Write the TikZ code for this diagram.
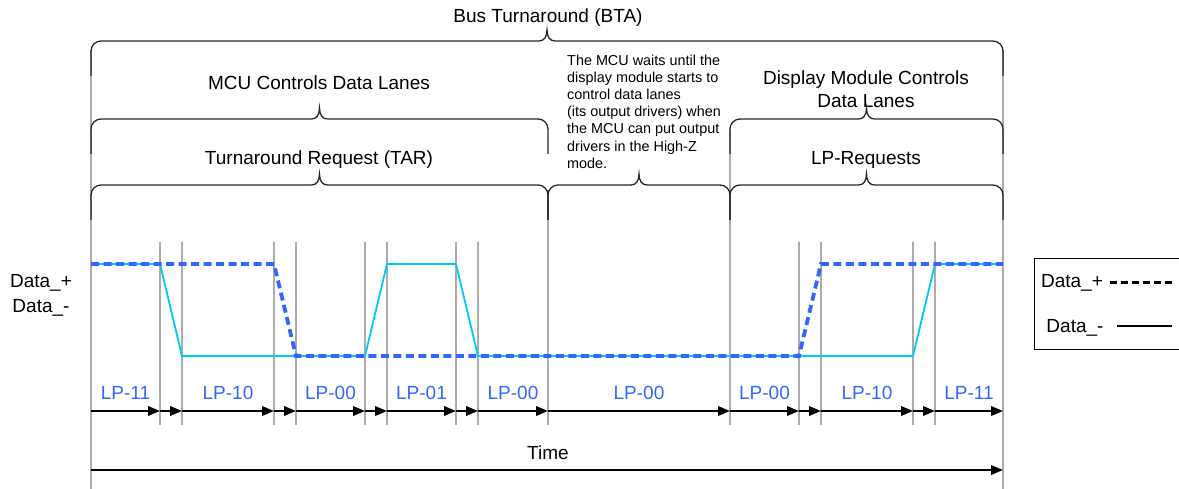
\documentclass[tikz,border=0pt]{standalone}
\usepackage{fontspec}
\setmainfont{Liberation Sans}
\usepackage{tikz}
\usetikzlibrary{arrows.meta,positioning}
\definecolor{lpblue}{HTML}{3366FF}
\definecolor{lcyan}{HTML}{00C8F8}
\definecolor{gridgray}{HTML}{ABABAB}
\tikzset{
  td/txt/.style={font=\fontsize{19}{23}\selectfont, inner sep=0pt, align=center},
  td/note/.style={font=\fontsize{14.4}{17.2}\selectfont, inner sep=0pt, align=left},
  td/gridline/.style={draw=gridgray, line width=1.1pt},
  td/bracepath/.style={draw=black!85, line width=1.3pt},
  td/tarrow/.style={draw, line width=2pt, -{Triangle[length=12pt,width=9.5pt]}}
}

\begin{document}
\begin{tikzpicture}[
  x=1pt, y=-1pt,
  txt/.style={td/txt},
  lp/.style={td/txt, text=lpblue},
  dplus/.style={draw=lpblue, line width=3.8pt, dash pattern=on 8pt off 4.5pt},
  dminus/.style={draw=lcyan, line width=1.8pt}
]
\useasboundingbox (0,0) rectangle (1179,489);

% --- grid lines ---
\foreach \x in {91,1003} \draw[td/gridline] (\x,50) -- (\x,489);
\foreach \x in {160,182,274,296,365,387,456,478,799,821,913,935}
  \draw[td/gridline] (\x,242) -- (\x,425);
\draw[td/gridline] (548,190) -- (548,425);
\draw[td/gridline] (730,130) -- (730,425);

% --- braces ---
\foreach \xa/\xb/\yy in {91/1003/41, 91/548/119, 730/1003/119,
                         91/548/185, 548/730/185, 730/1003/185} {
  \pgfmathsetmacro\xm{(\xa+\xb)/2}
  \draw[td/bracepath] (\xa,\yy+35) -- (\xa,\yy+10)
    .. controls (\xa,\yy+4.5) and (\xa+4.5,\yy) .. (\xa+10,\yy)
    -- (\xm-8,\yy)
    .. controls (\xm-3,\yy) and (\xm,\yy-4) .. (\xm,\yy-11)
    .. controls (\xm,\yy-4) and (\xm+3,\yy) .. (\xm+8,\yy)
    -- (\xb-10,\yy)
    .. controls (\xb-4.5,\yy) and (\xb,\yy+4.5) .. (\xb,\yy+10)
    -- (\xb,\yy+35);
}

% --- phase texts ---
\node[txt] (bta) at (548,18) {Bus Turnaround (BTA)};
\node[txt] (mcu) at (319,83) {MCU Controls Data Lanes};
\node[txt] (disp) at (866,89) {Display Module Controls\\Data Lanes};
\node[txt] (tar) at (319,160) {Turnaround Request (TAR)};
\node[txt] (lpreq) at (866,160) {LP-Requests};
\node[td/note, anchor=north west] (wait) at (567,54.5)
  {The MCU waits until the\\display module starts to\\control data lanes\\(its output drivers) when\\the MCU can put output\\drivers in the High-Z\\mode.};

% --- signal names ---
\node[txt] (nplus) at (41,283) {Data\_+};
\node[txt, below=8pt of nplus] (nminus) {Data\_-};

% --- waveforms ---
\draw[dminus] (91,264) -- (160,264) -- (182,356) -- (365,356) -- (387,264)
  -- (456,264) -- (478,356) -- (913,356) -- (935,264) -- (1003,264);
\draw[dplus] (91,264) -- (274,264) -- (296,356) -- (799,356) -- (821,264)
  -- (1003,264);

% --- LP states ---
\foreach \x/\s [count=\i] in {125.5/LP-11, 228/LP-10, 330.5/LP-00, 421.5/LP-01,
    513/LP-00, 639/LP-00, 764.5/LP-00, 867/LP-10, 969/LP-11}
  \node[lp] (lp\i) at (\x,393) {\s};

% --- time steps ---
\foreach \x [count=\i] in {91,160,182,274,296,365,387,456,478,548,730,799,821,913,935,1003}
  \coordinate (t\i) at (\x,411);
\foreach \i [evaluate=\i as \j using int(\i+1)] in {1,...,15}
  \draw[td/tarrow] (t\i) -- (t\j);

% --- time axis ---
\coordinate (tstart) at (91,470);
\coordinate (tend) at (1003,470);
\draw[td/tarrow, line width=2.4pt] (tstart) -- (tend);
\node[txt] (time) at (548,453) {Time};

% --- legend ---
\node[draw, line width=1.2pt, minimum width=152pt, minimum height=91pt,
  anchor=north west, inner sep=0pt] (legend) at (1034,258) {};
\node[txt] (lgplus) at (1072,283) {Data\_+};
\node[txt] (lgminus) at (1075,328) {Data\_-};
\draw[line width=3pt, dash pattern=on 7pt off 4pt]
  (1110,283) -- (1173,283);
\draw[line width=1.8pt] (1117,326) -- (1172,326);

\end{tikzpicture}
\end{document}
